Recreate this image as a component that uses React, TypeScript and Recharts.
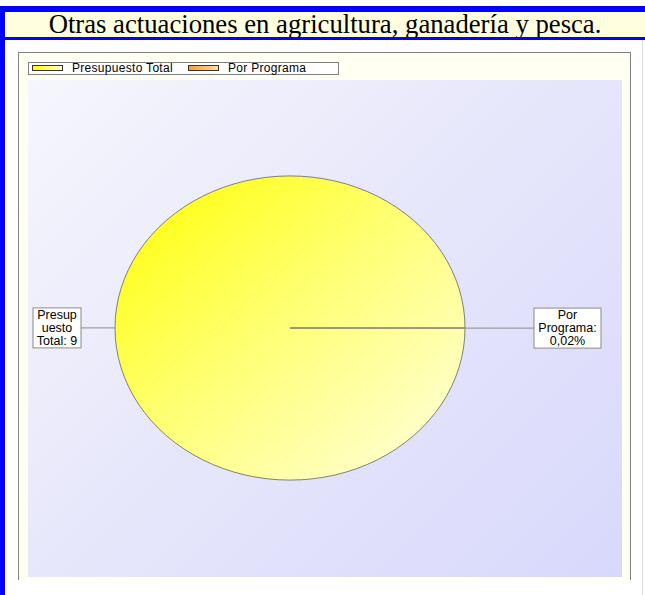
import { PieChart, Pie, Cell, Legend } from "recharts";

const CATEGORIES = ["Presupuesto Total", "Por Programa"];
const VALUES = [99.98, 0.02];
const LABEL_LINES = [
  ["Presup", "uesto", "Total: 9"],
  ["Por", "Programa:", "0,02%"],
];
const TITLE = "Otras actuaciones en agricultura, ganadería y pesca.";

const data = CATEGORIES.map((name, i) => ({ name, value: VALUES[i] }));

const FILLS = ["url(#gradTotal)", "url(#gradProg)"];
const SWATCH_BG = [
  "linear-gradient(90deg, #ffff00, #ffffc8)",
  "linear-gradient(90deg, #ff9a30, #ffe0a0)",
];

const CX = 272;
const CY = 276;
const R = 175;
const SQUASH = 0.869;
const RAD = Math.PI / 180;

const renderLabel = (props: any) => {
  const { midAngle, index } = props;
  const cx = props.cx ?? CX;
  const cy = props.cy ?? CY;
  const r = props.outerRadius ?? R;
  const right = Math.cos(midAngle * RAD) > 0;
  const lines = LABEL_LINES[index];
  const w = right ? 67 : 48;
  const h = 40;
  const edgeX = cx + r * Math.cos(midAngle * RAD);
  const y = cy - r * SQUASH * Math.sin(midAngle * RAD);
  const boxX = right ? edgeX + 69 : edgeX - 34 - w;
  return (
    <g key={`lbl-${index}`}>
      <line x1={edgeX} y1={y} x2={right ? boxX : boxX + w} y2={y} stroke="#8a8a8a" strokeWidth={1} />
      <rect x={boxX} y={y - h / 2} width={w} height={h} fill="#fff" stroke="#8a8a8a" strokeWidth={1} />
      {lines.map((t, i) => (
        <text
          key={i}
          x={boxX + w / 2}
          y={y - 13 + i * 13}
          textAnchor="middle"
          dominantBaseline="central"
          fontSize={12.5}
          fontFamily="'Liberation Sans', Arial, sans-serif"
          fill="#000"
        >
          {t}
        </text>
      ))}
    </g>
  );
};

const renderLegend = () => {
  const swatchX = [3, 159];
  const textX = [43, 199];
  return (
    <div
      style={{
        position: "relative",
        width: 311,
        height: 13,
        boxSizing: "border-box",
        border: "1px solid #808080",
        background: "#fff",
        fontFamily: "'Liberation Sans', Arial, sans-serif",
        fontSize: 12,
        letterSpacing: 0.3,
      }}
    >
      {CATEGORIES.map((n, i) => (
        <div key={n}>
          <div
            style={{
              position: "absolute",
              left: swatchX[i],
              top: 2,
              width: 31,
              height: 6,
              boxSizing: "border-box",
              border: "1px solid #333",
              background: SWATCH_BG[i],
            }}
          />
          <div style={{ position: "absolute", left: textX[i], top: -1, lineHeight: "12px", color: "#000", whiteSpace: "nowrap" }}>
            {n}
          </div>
        </div>
      ))}
    </div>
  );
};

export default function App() {
  return (
    <div
      className="pie-wrap"
      style={{ position: "absolute", left: 0, top: 0, width: 645, height: 595, background: "#fff", overflow: "hidden" }}
    >
      <style>{`.pie-wrap .recharts-sector { transform-origin: ${CX}px ${CY}px; transform: scaleY(${SQUASH}); }`}</style>
      {/* blue frame and title band */}
      <div style={{ position: "absolute", left: 0, top: 6, width: 645, height: 6, background: "#0000ff" }} />
      <div style={{ position: "absolute", left: 0, top: 6, width: 5, height: 589, background: "#0000ff" }} />
      <div
        style={{
          position: "absolute",
          left: 5,
          top: 12,
          width: 640,
          height: 25,
          background: "#ffffe0",
          textAlign: "center",
          fontFamily: "'Liberation Serif', 'Times New Roman', serif",
          fontSize: 26.7,
          lineHeight: "25px",
          color: "#000",
          whiteSpace: "nowrap",
        }}
      >
        {TITLE}
      </div>
      <div style={{ position: "absolute", left: 5, top: 37, width: 640, height: 3, background: "#0000ff" }} />
      <div style={{ position: "absolute", left: 642, top: 40, width: 1, height: 555, background: "#dcdcf4" }} />
      {/* chart frame */}
      <div
        style={{
          position: "absolute",
          left: 18,
          top: 52,
          width: 613,
          height: 528,
          boxSizing: "border-box",
          borderTop: "1px solid #808080",
          borderLeft: "1px solid #808080",
          borderRight: "1px solid #808080",
          background: "#fffff2",
        }}
      />
      <div
        style={{
          position: "absolute",
          left: 28,
          top: 80,
          width: 594,
          height: 497,
          background: "linear-gradient(135deg, #f6f6fd 0%, #e6e6fb 50%, #d8d8fc 100%)",
        }}
      />
      <div style={{ position: "absolute", left: 18, top: 52 }}>
        <PieChart width={613} height={528} margin={{ top: 0, right: 0, bottom: 0, left: 0 }}>
          <defs>
            <linearGradient id="gradTotal" x1="0" y1="0" x2="1" y2="1">
              <stop offset="0%" stopColor="#ffff00" />
              <stop offset="45%" stopColor="#ffff70" />
              <stop offset="100%" stopColor="#ffffe4" />
            </linearGradient>
            <linearGradient id="gradProg" x1="0" y1="0" x2="1" y2="1">
              <stop offset="0%" stopColor="#ff9a30" />
              <stop offset="100%" stopColor="#ffe0a0" />
            </linearGradient>
          </defs>
          <Legend
            verticalAlign="bottom"
            align="left"
            content={renderLegend}
            wrapperStyle={{ position: "absolute", top: 10, left: 10, bottom: "auto", width: 311, height: 13 }}
          />
          <Pie
            data={data}
            dataKey="value"
            nameKey="name"
            cx={CX}
            cy={CY}
            outerRadius={R}
            startAngle={0}
            endAngle={360}
            label={renderLabel}
            labelLine={false}
            isAnimationActive={false}
          >
            {data.map((d, i) => (
              <Cell key={d.name} fill={FILLS[i]} stroke={i === 0 ? "#5a5a5a" : "#9a9a70"} strokeWidth={0.8} />
            ))}
          </Pie>
        </PieChart>
      </div>
    </div>
  );
}
